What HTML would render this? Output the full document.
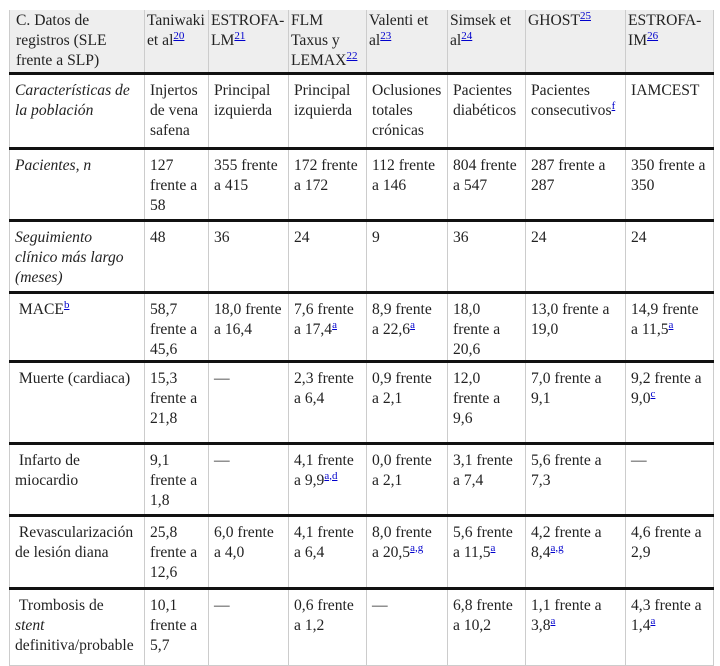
<!DOCTYPE html>
<html><head><meta charset="utf-8">
<style>
body{margin:0;background:#fff;width:720px;height:662px;overflow:hidden;}
table{position:absolute;left:9px;top:10px;border-collapse:collapse;table-layout:fixed;width:704px;font-family:"Liberation Serif",serif;font-size:15.6px;line-height:20px;color:#222;}
td{vertical-align:top;padding:6px 6px 0 5px;border-left:1px solid #ccc;border-right:1px solid #ccc;overflow:hidden;}
thead td{background:#eee;padding-top:1px;padding-left:2px;padding-right:4px;}
thead td:first-child{padding-left:6px;}
tbody tr td{border-top:3px solid #111;}
sup{line-height:0;vertical-align:6px;font-size:11px;}
sup a{color:#00c;text-decoration:underline;}
table{border-bottom:1px solid #ccc;}
</style></head><body>
<table>
<colgroup><col style="width:135px"><col style="width:64px"><col style="width:80px"><col style="width:78px"><col style="width:81px"><col style="width:78px"><col style="width:100px"><col style="width:88px"></colgroup>
<thead><tr style="height:63px">
<td>C. Datos de registros (SLE frente a SLP)</td>
<td>Taniwaki et al<sup><a>20</a></sup></td>
<td>ESTROFA-LM<sup><a>21</a></sup></td>
<td>FLM<br>Taxus y LEMAX<sup><a>22</a></sup></td>
<td>Valenti et al<sup><a>23</a></sup></td>
<td>Simsek et al<sup><a>24</a></sup></td>
<td>GHOST<sup><a>25</a></sup></td>
<td>ESTROFA-IM<sup><a>26</a></sup></td>
</tr></thead>
<tbody>
<tr style="height:75px"><td><i>Características de la población</i></td><td>Injertos de vena safena</td><td>Principal izquierda</td><td>Principal izquierda</td><td>Oclusiones totales crónicas</td><td>Pacientes diabéticos</td><td>Pacientes consecutivos<sup><a>f</a></sup></td><td>IAMCEST</td></tr>
<tr style="height:72px"><td><i>Pacientes, n</i></td><td>127 frente a 58</td><td>355 frente a 415</td><td>172 frente a 172</td><td>112 frente a 146</td><td>804 frente a 547</td><td>287 frente a 287</td><td>350 frente a 350</td></tr>
<tr style="height:72px"><td><i>Seguimiento clínico más largo (meses)</i></td><td>48</td><td>36</td><td>24</td><td>9</td><td>36</td><td>24</td><td>24</td></tr>
<tr style="height:66px"><td>&nbsp;MACE<sup><a>b</a></sup></td><td>58,7 frente a 45,6</td><td>18,0 frente a 16,4</td><td>7,6 frente a 17,4<sup><a>a</a></sup></td><td>8,9 frente a 22,6<sup><a>a</a></sup></td><td>18,0 frente a 20,6</td><td>13,0 frente a 19,0</td><td>14,9 frente a 11,5<sup><a>a</a></sup></td></tr>
<tr style="height:82px"><td>&nbsp;Muerte (cardiaca)</td><td>15,3 frente a 21,8</td><td>—</td><td>2,3 frente a 6,4</td><td>0,9 frente a 2,1</td><td>12,0 frente a 9,6</td><td>7,0 frente a 9,1</td><td>9,2 frente a 9,0<sup><a>c</a></sup></td></tr>
<tr style="height:72px"><td>&nbsp;Infarto de miocardio</td><td>9,1 frente a 1,8</td><td>—</td><td>4,1 frente a 9,9<sup><a>a,d</a></sup></td><td>0,0 frente a 2,1</td><td>3,1 frente a 7,4</td><td>5,6 frente a 7,3</td><td>—</td></tr>
<tr style="height:73px"><td>&nbsp;Revascularización de lesión diana</td><td>25,8 frente a 12,6</td><td>6,0 frente a 4,0</td><td>4,1 frente a 6,4</td><td>8,0 frente a 20,5<sup><a>a,g</a></sup></td><td>5,6 frente a 11,5<sup><a>a</a></sup></td><td>4,2 frente a 8,4<sup><a>a,g</a></sup></td><td>4,6 frente a 2,9</td></tr>
<tr style="height:77px"><td>&nbsp;Trombosis de<br><i>stent</i><br>definitiva/probable</td><td>10,1 frente a 5,7</td><td>—</td><td>0,6 frente a 1,2</td><td>—</td><td>6,8 frente a 10,2</td><td>1,1 frente a 3,8<sup><a>a</a></sup></td><td>4,3 frente a 1,4<sup><a>a</a></sup></td></tr>
</tbody></table>
</body></html>
